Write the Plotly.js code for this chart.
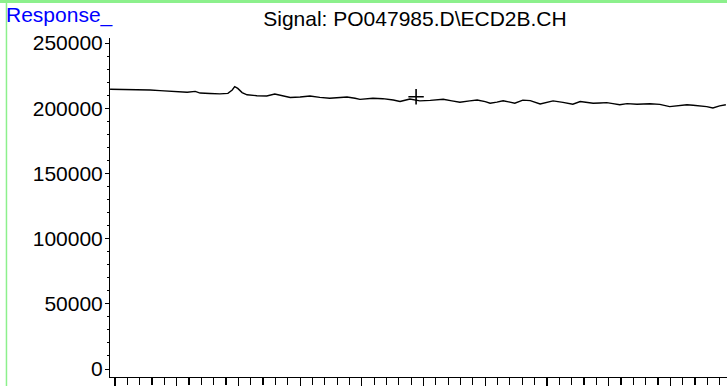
<!DOCTYPE html>
<html>
<head>
<meta charset="utf-8">
<script src="https://cdn.plot.ly/plotly-3.0.1.min.js"></script>
<style>
html,body{margin:0;padding:0;background:#fff;}
#chart{width:727px;height:386px;}
</style>
</head>
<body>
<div id="chart"></div>
<script>
// Retention time (min) and detector response
const timeMin = [0.92,1.08,1.24,1.41,1.57,1.73,1.89,2.05,2.17,2.30,2.38,2.54,2.70,2.83,2.90,2.94,2.99,3.06,3.14,3.30,3.46,3.59,3.71,3.84,4.00,4.16,4.32,4.48,4.65,4.76,4.89,4.97,5.18,5.34,5.51,5.62,5.78,5.94,6.11,6.32,6.46,6.59,6.75,6.87,7.00,7.08,7.19,7.29,7.40,7.48,7.61,7.73,7.89,8.00,8.10,8.26,8.42,8.54,8.65,8.75,8.86,8.97,9.07,9.18,9.30,9.46,9.67,9.83,9.99,10.15,10.27,10.37,10.48,10.59,10.69,10.80,10.90];
const response = [214500,214400,214600,214300,214000,213500,213200,212800,212200,212900,211600,211300,211000,211400,214000,216500,215200,212000,210300,209600,209400,210900,209800,208200,208600,209400,208300,207600,208200,208600,207600,206800,207600,207300,206300,205200,207000,205600,206000,206800,205600,204600,205600,206300,205000,203800,204700,205700,204700,203800,206200,205800,203300,204600,205600,204500,203100,205100,204500,203800,204000,204300,203500,202600,203500,203000,203400,202900,201200,202200,202600,202300,202000,201200,200200,201800,202600];

// Cursor mark ("+") on the trace
const markTime = [5.88];
const markResponse = [208800];

const chartTitle = "Signal: PO047985.D\\ECD2B.CH";
const yLabel = "Response_";

const FONT = "Liberation Sans, Arial, sans-serif";
const GREEN = "#8CF08C";
const Y_RANGE = [-6135, 253834];

const traces = [
  {
    x: timeMin, y: response, type: "scatter", mode: "lines",
    line: {color: "#000", width: 1.4}, hoverinfo: "skip", showlegend: false
  },
  {
    x: markTime, y: markResponse, type: "scatter", mode: "markers", yaxis: "y2",
    marker: {symbol: "cross-thin", size: 11, line: {color: "#000", width: 1.6}, color: "#000"},
    hoverinfo: "skip", showlegend: false
  }
];

const layout = {
  width: 727, height: 386,
  margin: {l: 110, r: 0, t: 38, b: 9, pad: 0},
  paper_bgcolor: "#fff", plot_bgcolor: "#fff",
  font: {family: FONT, color: "#000", size: 20},
  title: {
    text: chartTitle, xref: "container", yref: "container",
    x: 0.5708, xanchor: "center", y: 0.951, yanchor: "middle",
    font: {family: FONT, size: 21, color: "#000"}
  },
  xaxis: {
    range: [0.919, 10.919], showgrid: false, zeroline: false,
    showline: true, linecolor: "#000", linewidth: 1.2,
    ticks: "outside", ticklen: 9, tickwidth: 1.2, tickcolor: "#000",
    tick0: 1, dtick: 1, showticklabels: false,
    minor: {ticks: "outside", ticklen: 7, tickwidth: 1.2, tickcolor: "#000", dtick: 0.2, showgrid: false}
  },
  yaxis: {
    range: Y_RANGE, showgrid: false, zeroline: false,
    showline: true, linecolor: "#000", linewidth: 1.2,
    ticks: "outside", ticklen: 4, tickwidth: 1, tickcolor: "#000",
    tick0: 0, dtick: 50000, showticklabels: false,
    minor: {ticks: "outside", ticklen: 2, tickwidth: 1, tickcolor: "#000", dtick: 10000, showgrid: false}
  },
  yaxis2: {
    range: Y_RANGE, overlaying: "y", side: "left", anchor: "free", position: 0,
    showgrid: false, zeroline: false, showline: false,
    ticks: "outside", ticklen: 3, tickcolor: "rgba(0,0,0,0)",
    tick0: 0, dtick: 50000, tickformat: "d",
    tickfont: {family: FONT, size: 21, color: "#000"}
  },
  annotations: [
    {
      text: yLabel, xref: "paper", yref: "paper",
      x: -0.1726, xanchor: "left", y: 1.068, yanchor: "middle",
      showarrow: false, font: {family: FONT, size: 21, color: "#0000FF"}
    }
  ],
  shapes: [
    {type: "line", xref: "paper", yref: "paper", x0: -0.2, x1: 1.0, y0: 1.1077, y1: 1.1077,
     line: {color: GREEN, width: 3}},
    {type: "line", xref: "paper", yref: "paper", x0: -0.1678, x1: -0.1678, y0: -0.1, y1: 1.12,
     line: {color: GREEN, width: 1.5}}
  ]
};

Plotly.newPlot("chart", traces, layout, {displayModeBar: false, staticPlot: true});
</script>
</body>
</html>
